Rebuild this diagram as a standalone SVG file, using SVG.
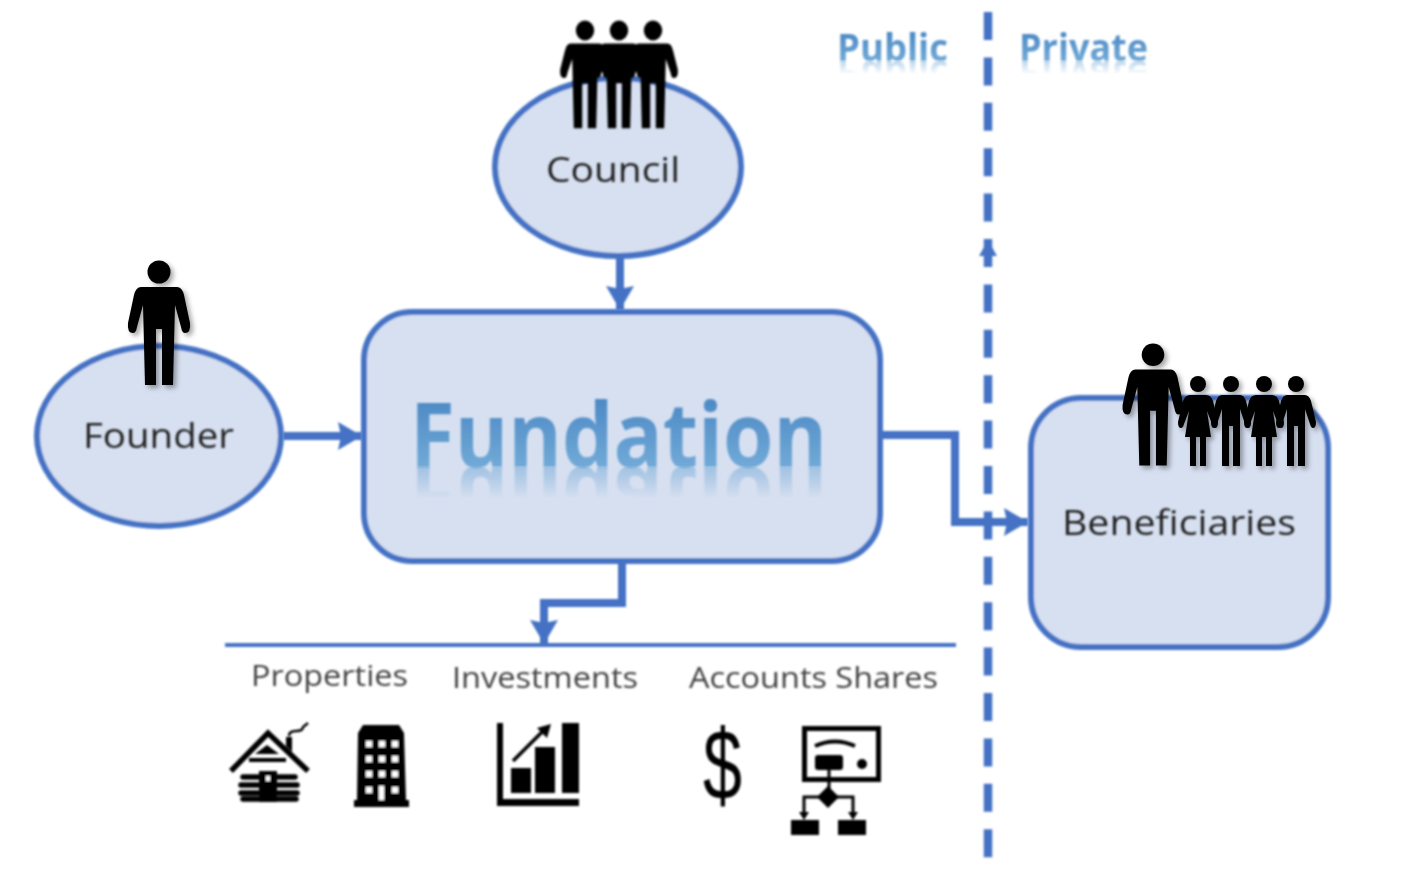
<svg xmlns="http://www.w3.org/2000/svg" xmlns:xlink="http://www.w3.org/1999/xlink" width="1418" height="869" viewBox="0 0 1418 869">
<style>
.shape{fill:#d7e0f1;stroke:#4472c4;stroke-width:6}
.conn{fill:none;stroke:#4472c4;stroke-width:8}
.lbl{font-family:"Open Sans","Liberation Sans",sans-serif;fill:#222;text-anchor:start}
.big{font-family:"Open Sans","Liberation Sans",sans-serif;font-weight:700}
.ink{fill:#000}
.ln{fill:none;stroke:#000}
</style>
<defs>
<linearGradient id="gf" x1="0" y1="0" x2="0" y2="1"><stop offset="0" stop-color="#3e7cbd"/><stop offset="1" stop-color="#7fb6de"/></linearGradient>
<linearGradient id="fade" gradientUnits="userSpaceOnUse" x1="0" y1="466" x2="0" y2="498"><stop offset="0" stop-color="#fff" stop-opacity=".55"/><stop offset="1" stop-color="#fff" stop-opacity="0"/></linearGradient>
<linearGradient id="fadeS" gradientUnits="userSpaceOnUse" x1="0" y1="60" x2="0" y2="74"><stop offset="0" stop-color="#fff" stop-opacity=".5"/><stop offset="1" stop-color="#fff" stop-opacity="0"/></linearGradient>
<mask id="mBig" maskUnits="userSpaceOnUse" x="400" y="460" width="440" height="50"><rect x="400" y="467" width="440" height="43" fill="url(#fade)"/></mask>
<mask id="mSmall" maskUnits="userSpaceOnUse" x="830" y="55" width="330" height="30"><rect x="830" y="61" width="330" height="20" fill="url(#fadeS)"/></mask>
<filter id="soft" x="-5%" y="-5%" width="110%" height="110%"><feGaussianBlur stdDeviation="0.8"/></filter>
<filter id="shadow" x="-20%" y="-10%" width="140%" height="120%"><feDropShadow dx="3" dy="3" stdDeviation="2.5" flood-color="#000" flood-opacity=".35"/></filter>
<marker id="arr" markerUnits="userSpaceOnUse" markerWidth="26" markerHeight="30" refX="24" refY="15" orient="auto"><path d="M0,1 L24,15 L0,29 L3,15Z" fill="#4472c4"/></marker>
<g id="man">
<circle cx="0" cy="11" r="11.5"/>
<path d="M-18,26 L18,26 Q23,26 25,34 L31,62 Q32,72 26,72 Q23,72 22,66 L16,44 L14,124 L3,124 L3,68 L-3,68 L-3,124 L-14,124 L-16,44 L-22,66 Q-23,72 -26,72 Q-32,72 -31,62 L-25,34 Q-23,26 -18,26Z"/>
</g>
<g id="man3">
<circle cx="0" cy="11" r="11.5"/>
<path d="M-18,26 L18,26 Q23,26 25,34 L31,56 Q32,66 26,66 Q23,66 22,60 L16,44 L14,124 L3.500,124 L3.500,72 L-3.500,72 L-3.500,124 L-14,124 L-16,44 L-22,60 Q-23,66 -26,66 Q-32,66 -31,56 L-25,34 Q-23,26 -18,26Z"/>
</g>
<g id="boy">
<circle cx="0" cy="8" r="8"/>
<path d="M-9,19 L9,19 Q13,19 15,25 L20,46 Q20,52 17,52 Q15,52 14,48 L9,33 L9,90 L2,90 L2,50 L-2,50 L-2,90 L-9,90 L-9,33 L-14,48 Q-15,52 -17,52 Q-20,52 -20,46 L-15,25 Q-13,19 -9,19Z"/>
</g>
<g id="girl">
<circle cx="0" cy="8" r="8"/>
<path d="M-8,19 L8,19 Q13,19 15,25 L20,46 Q20,52 17,52 Q15,52 14,48 L9,35 L13,61 L8,61 L8,90 L2,90 L2,61 L-2,61 L-2,90 L-8,90 L-8,61 L-13,61 L-9,35 L-14,48 Q-15,52 -17,52 Q-20,52 -20,46 L-15,25 Q-13,19 -8,19Z"/>
</g>
</defs>
<rect width="1418" height="869" fill="#fff"/>

<g id="divider" filter="url(#soft)">
<line x1="988" y1="12" x2="988" y2="858" stroke="#4472c4" stroke-width="8.5" stroke-dasharray="28 17.4"/>
<path d="M988,240 L997,256 L979,256Z" fill="#4472c4"/>
</g>

<g id="connectors" filter="url(#soft)">
<path class="conn" d="M620,256 V310" marker-end="url(#arr)"/>
<path class="conn" d="M283,436 H362" marker-end="url(#arr)"/>
<path class="conn" d="M880,435 H955 V522 H1028" marker-end="url(#arr)"/>
<path class="conn" d="M622,561 V603 H544 V644" marker-end="url(#arr)"/>
<line x1="225" y1="645" x2="956" y2="645" stroke="#4472c4" stroke-width="4"/>
</g>

<g id="founder">
<ellipse class="shape" cx="159" cy="436" rx="122" ry="90" filter="url(#soft)"/>
<use href="#man" xlink:href="#man" transform="translate(159,261)" filter="url(#shadow)"/>
<text class="lbl" x="83" y="448" font-size="34" textLength="151" lengthAdjust="spacingAndGlyphs" filter="url(#soft)">Founder</text>
</g>

<g id="council">
<ellipse class="shape" cx="618" cy="167" rx="123" ry="89" filter="url(#soft)"/>
<g filter="url(#soft)">
<use href="#man3" xlink:href="#man3" transform="translate(585,21) scale(.8,.865)"/>
<use href="#man3" xlink:href="#man3" transform="translate(653,21) scale(.8,.865)"/>
<use href="#man3" xlink:href="#man3" transform="translate(619,21) scale(.8,.865)"/>
</g>
<text class="lbl" x="546" y="182" font-size="34" textLength="134" lengthAdjust="spacingAndGlyphs" filter="url(#soft)">Council</text>
</g>

<g id="fundation">
<rect class="shape" x="364" y="312" width="516" height="249" rx="48" filter="url(#soft)"/>
<text id="tFund" class="big" x="410" y="467" font-size="90" fill="url(#gf)" textLength="417" lengthAdjust="spacingAndGlyphs" filter="url(#soft)">Fundation</text>
<g mask="url(#mBig)"><use href="#tFund" xlink:href="#tFund" transform="translate(0,934) scale(1,-1)"/></g>
</g>

<g id="beneficiaries">
<rect class="shape" x="1031" y="398" width="297" height="249" rx="50" filter="url(#soft)"/>
<g filter="url(#shadow)">
<use href="#man" xlink:href="#man" transform="translate(1153,344) scale(.98)"/>
<use href="#girl" xlink:href="#girl" transform="translate(1198,376)"/>
<use href="#boy" xlink:href="#boy" transform="translate(1231,376)"/>
<use href="#girl" xlink:href="#girl" transform="translate(1264,376)"/>
<use href="#boy" xlink:href="#boy" transform="translate(1296,376)"/>
</g>
<text class="lbl" x="1062" y="535" font-size="34" textLength="234" lengthAdjust="spacingAndGlyphs" filter="url(#soft)">Beneficiaries</text>
</g>

<g id="public">
<text id="tPub" class="big" x="837" y="61" font-size="37" fill="url(#gf)" textLength="111" lengthAdjust="spacingAndGlyphs" filter="url(#soft)">Public</text>
<g mask="url(#mSmall)"><use href="#tPub" xlink:href="#tPub" transform="translate(0,122) scale(1,-1)"/></g>
</g>
<g id="private">
<text id="tPri" class="big" x="1019" y="61" font-size="37" fill="url(#gf)" textLength="129" lengthAdjust="spacingAndGlyphs" filter="url(#soft)">Private</text>
<g mask="url(#mSmall)"><use href="#tPri" xlink:href="#tPri" transform="translate(0,122) scale(1,-1)"/></g>
</g>

<g id="properties" filter="url(#soft)">
<text class="lbl" x="251" y="686" font-size="29" fill-opacity=".85" textLength="157" lengthAdjust="spacingAndGlyphs">Properties</text>
<g id="house">
<path class="ln" stroke-width="5.500" d="M231,771 L268,733 L308,771"/>
<path class="ink" d="M267,745 L279,754 H255Z"/>
<path class="ln" stroke-width="4" d="M249,760 H286"/>
<path class="ink" d="M286,737 H292 V752 L286,746Z"/>
<path class="ln" stroke-width="2.500" d="M289,736 Q289,731 296,731 Q303,731 303,727 L308,723"/>
<path class="ln" stroke-width="5.500" stroke-linecap="round" d="M243,777 H258 M278,777 H295 M241,785 H258 M278,785 H297 M241,793 H258 M278,793 H297 M243,799 H258 M278,799 H296"/>
<rect class="ink" x="259" y="771" width="18" height="31"/>
<rect x="266" y="776" width="4" height="5" fill="#fff"/>
</g>
<g id="building">
<path class="ink" d="M363,725 H399 L404,733 L406,800 H409 V807 H354 V800 H357 L358,733Z"/>
<g fill="#fff">
<rect x="366" y="741" width="6" height="6"/><rect x="379" y="741" width="6" height="6"/><rect x="392" y="741" width="6" height="6"/>
<rect x="366" y="756" width="6" height="6"/><rect x="379" y="756" width="6" height="6"/><rect x="392" y="756" width="6" height="6"/>
<rect x="366" y="771" width="6" height="6"/><rect x="379" y="771" width="6" height="6"/><rect x="392" y="771" width="6" height="6"/>
<rect x="366" y="787" width="6" height="6"/><rect x="379" y="786" width="5" height="14"/><rect x="392" y="787" width="6" height="6"/>
</g>
</g>
</g>

<g id="investments" filter="url(#soft)">
<text class="lbl" x="452" y="688" font-size="29" fill-opacity=".85" textLength="186" lengthAdjust="spacingAndGlyphs">Investments</text>
<path class="ink" d="M497,723 H503 V799 H579 V806 H497Z"/>
<rect class="ink" x="511" y="768" width="20" height="25"/>
<rect class="ink" x="535" y="747" width="20" height="46"/>
<rect class="ink" x="562" y="723" width="17" height="70"/>
<path class="ln" stroke-width="3.500" d="M513,761 L546,728"/>
<path class="ink" d="M551,724 L547,738 L537,728Z"/>
</g>

<g id="accounts-shares" filter="url(#soft)">
<text class="lbl" x="689" y="688" font-size="29" fill-opacity=".85" textLength="249" lengthAdjust="spacingAndGlyphs">Accounts Shares</text>
<text x="703" y="799" font-family="Liberation Sans, sans-serif" font-size="100" fill="#000" textLength="39" lengthAdjust="spacingAndGlyphs">$</text>
<rect x="804.500" y="728.500" width="74" height="51" fill="none" stroke="#000" stroke-width="5"/>
<path class="ln" stroke-width="4" d="M815,746 Q835,737 855,746"/>
<rect class="ink" x="815" y="755" width="28" height="15" rx="3"/>
<circle class="ink" cx="862" cy="764" r="5"/>
<path class="ln" stroke-width="3" d="M829,770 V790 M804,815 V797 H853 V815"/>
<path class="ink" d="M828,786 L839,797 L828,808 L817,797Z"/>
<path class="ink" d="M799,812 H809 L804,820Z M848,812 H858 L853,820Z"/>
<rect class="ink" x="791" y="820" width="28" height="15"/>
<rect class="ink" x="838" y="820" width="28" height="15"/>
</g>
</svg>
